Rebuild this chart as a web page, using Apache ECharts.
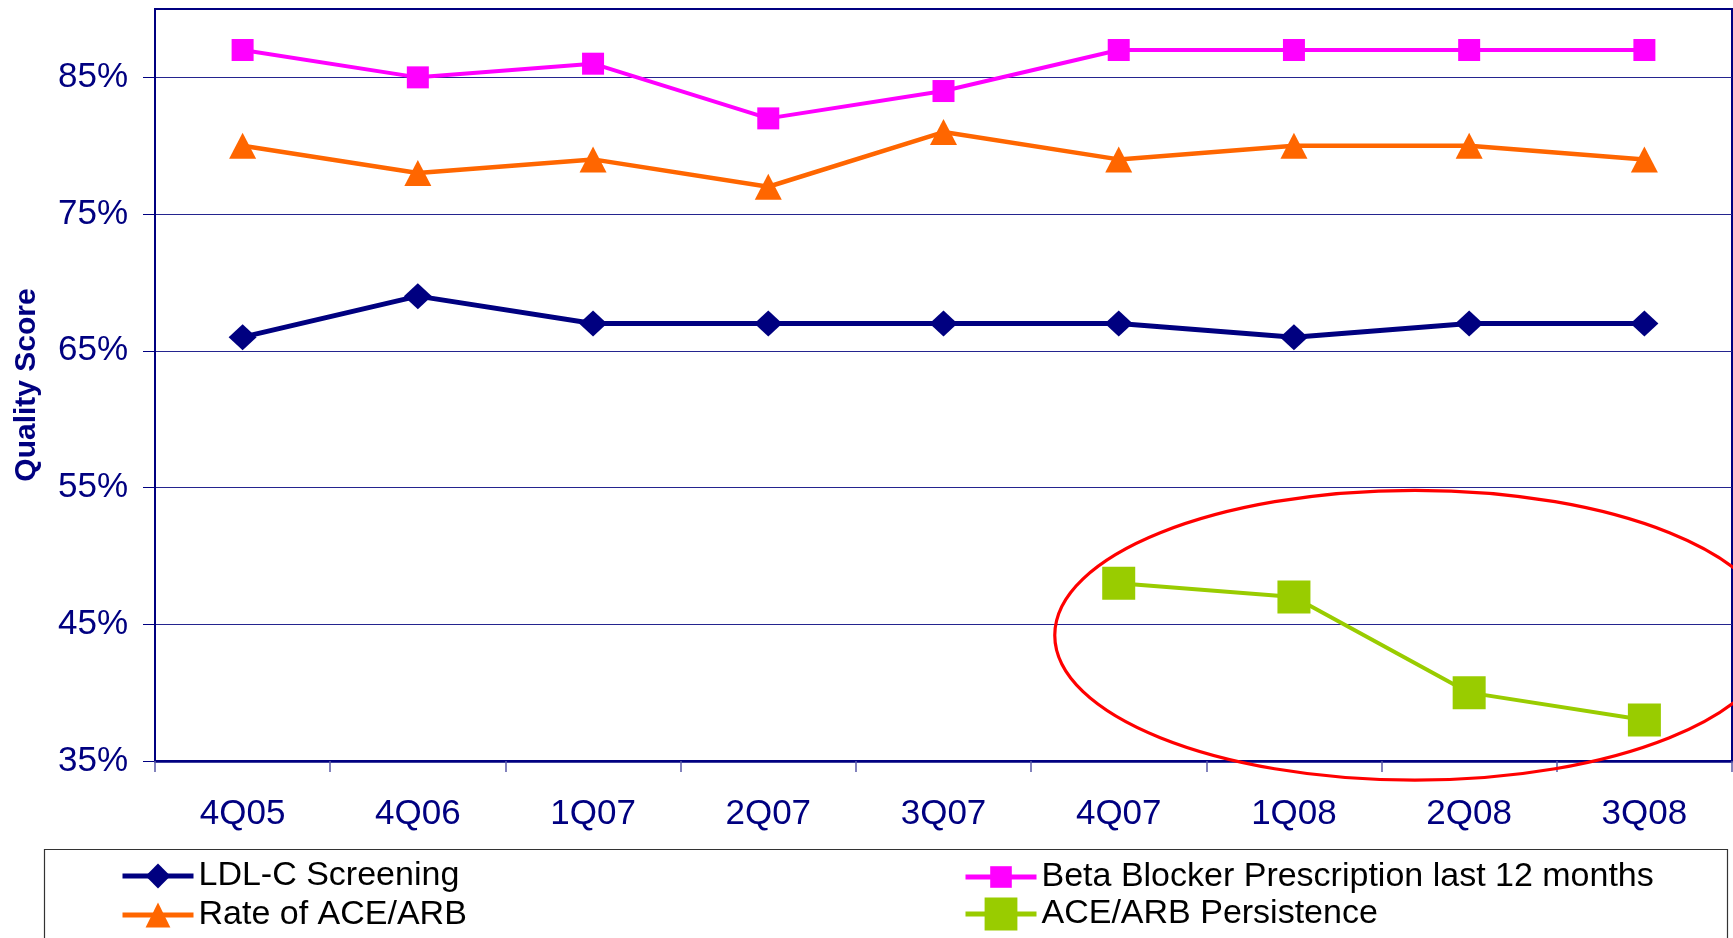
<!DOCTYPE html>
<html>
<head>
<meta charset="utf-8">
<script src="https://cdn.jsdelivr.net/npm/echarts@6/dist/echarts.min.js"></script>
<style>
  html, body { margin: 0; padding: 0; background: #ffffff; }
  #chart { width: 1733px; height: 938px; }
</style>
</head>
<body>
<div id="chart"></div>
<script>
// Quarter labels along the x axis
const quarters = ['4Q05', '4Q06', '1Q07', '2Q07', '3Q07', '4Q07', '1Q08', '2Q08', '3Q08'];

// Quality scores (%) per measure
const ldlScreening = [66, 69, 67, 67, 67, 67, 66, 67, 67];
const betaBlocker = [87, 85, 86, 82, 84, 87, 87, 87, 87];
const aceArbRate = [80, 78, 79, 77, 81, 79, 80, 80, 79];
const aceArbPersistence = [null, null, null, null, null, 48, 47, 40, 38];

// Y axis tick values
const yTicks = [35, 45, 55, 65, 75, 85];

// Highlight ring around the persistence trend (center between 1Q08 and 2Q08)
const ring = { fromIndex: 6, toIndex: 7, frac: 0.69, centerValue: 44.2, halfWidthCats: 2.055, halfHeightValue: 10.6 };

const NAVY = '#000080';
const FONT = '"Liberation Sans", Arial, sans-serif';

const chart = echarts.init(document.getElementById('chart'), null, { renderer: 'canvas' });

function legendFor(name, left, top, itemHeight) {
  return {
    data: [name],
    left: left,
    top: top,
    orient: 'horizontal',
    padding: 0,
    itemWidth: 71,
    itemHeight: itemHeight,
    itemGap: 0,
    selectedMode: false,
    lineStyle: { width: 5 },
    textStyle: { fontFamily: FONT, fontSize: 34, color: '#000000' }
  };
}

const option = {
  animation: false,
  backgroundColor: '#ffffff',
  grid: {
    left: 155, right: 1, top: 9, bottom: 177,
    show: true, borderColor: NAVY, borderWidth: 2, backgroundColor: 'transparent'
  },
  xAxis: {
    type: 'category',
    data: quarters,
    boundaryGap: true,
    axisLine: { lineStyle: { color: NAVY, width: 2.5 } },
    axisTick: { show: true, length: 11, lineStyle: { color: '#5a5aa8', width: 1.5 } },
    axisLabel: { color: NAVY, fontFamily: FONT, fontSize: 35, margin: 36 },
    splitLine: { show: false }
  },
  yAxis: {
    type: 'value',
    min: 35, max: 90, interval: 10,
    name: 'Quality Score',
    nameLocation: 'middle',
    nameRotate: 90,
    nameGap: 113,
    nameTextStyle: { color: NAVY, fontFamily: FONT, fontSize: 30, fontWeight: 'bold' },
    axisLine: { show: true, lineStyle: { color: NAVY, width: 2 } },
    axisTick: { show: true, length: 12, lineStyle: { color: NAVY, width: 1 }, customValues: yTicks },
    axisLabel: {
      color: NAVY, fontFamily: FONT, fontSize: 35, margin: 27,
      padding: [6, 0, 0, 0],
      customValues: yTicks,
      formatter: v => v + '%'
    },
    splitLine: { show: true, lineStyle: { color: '#24248f', width: 1.2 } }
  },
  legend: [
    legendFor('LDL-C Screening', 120, 859, 31),
    legendFor('Rate of ACE/ARB', 120, 898, 31),
    legendFor('Beta Blocker Prescription last 12 months', 963, 860, 27),
    legendFor('ACE/ARB Persistence', 963, 897, 41)
  ],
  series: [
    {
      name: 'LDL-C Screening', type: 'line', data: ldlScreening,
      symbol: 'diamond', symbolSize: [28, 26],
      lineStyle: { color: NAVY, width: 5 }, itemStyle: { color: NAVY }, z: 4
    },
    {
      name: 'Beta Blocker Prescription last 12 months', type: 'line', data: betaBlocker,
      symbol: 'rect', symbolSize: 22,
      lineStyle: { color: '#ff00ff', width: 4 }, itemStyle: { color: '#ff00ff' }, z: 3
    },
    {
      name: 'Rate of ACE/ARB', type: 'line', data: aceArbRate,
      symbol: 'triangle', symbolSize: [27, 26],
      lineStyle: { color: '#ff6600', width: 4.5 }, itemStyle: { color: '#ff6600' }, z: 3
    },
    {
      name: 'ACE/ARB Persistence', type: 'line', data: aceArbPersistence,
      symbol: 'rect', symbolSize: 33, connectNulls: false,
      lineStyle: { color: '#99cc00', width: 4 }, itemStyle: { color: '#99cc00' }, z: 3
    }
  ]
};

chart.setOption(option);

// Legend frame and highlight ring, placed through the chart's own coordinate mapping
function drawOverlays() {
  const p0 = chart.convertToPixel({ gridIndex: 0 }, [ring.fromIndex, ring.centerValue]);
  const p1 = chart.convertToPixel({ gridIndex: 0 }, [ring.toIndex, ring.centerValue]);
  const catW = p1[0] - p0[0];
  const cx = p0[0] + catW * ring.frac;
  const cy = p0[1];
  const top = chart.convertToPixel({ gridIndex: 0 }, [ring.fromIndex, ring.centerValue + ring.halfHeightValue])[1];
  const rx = catW * ring.halfWidthCats;
  const ry = cy - top;

  chart.setOption({
    graphic: [
      {
        type: 'rect', z: 0, silent: true,
        shape: { x: 44.5, y: 849.5, width: 1683, height: 200 },
        style: { fill: 'none', stroke: '#333333', lineWidth: 1.2 }
      },
      {
        type: 'ellipse', z: 50, silent: true,
        shape: { cx: cx, cy: cy, rx: rx, ry: ry },
        style: { fill: 'none', stroke: '#ff0000', lineWidth: 3.2 }
      }
    ]
  });
}
drawOverlays();
</script>
</body>
</html>
